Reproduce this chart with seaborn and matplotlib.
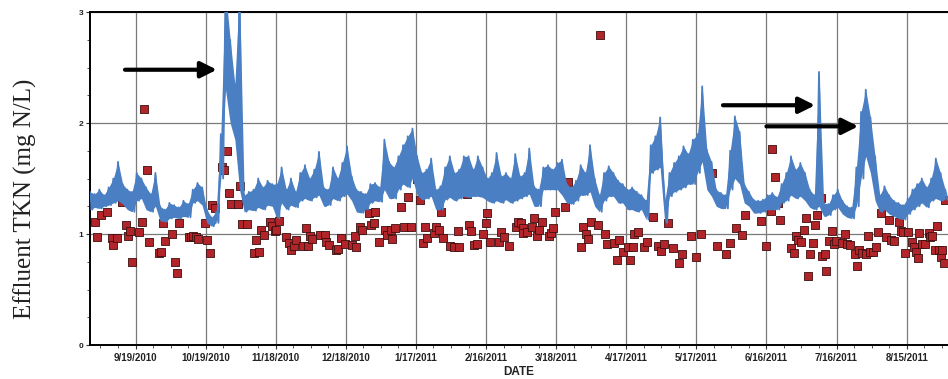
import numpy as np
import pandas as pd
import matplotlib
matplotlib.use("Agg")
import matplotlib.pyplot as plt
import matplotlib.dates as mdates
from matplotlib.ticker import FixedLocator, AutoMinorLocator, MultipleLocator
import seaborn as sns

# ---------------- data ----------------
start = pd.Timestamp("2010-08-30 12:00")

# online analyzer: upper / lower envelope of the noisy trace, one pair per 2-day bin
tkn_hi = [1.38,1.36,1.40,1.35,1.42,1.50,1.65,1.45,1.40,1.38,
          1.55,1.50,1.42,1.36,1.55,1.25,1.22,1.28,1.26,1.24,
          1.30,1.27,1.40,1.46,1.42,1.22,1.15,1.20,1.90,3.20,
          2.75,2.35,3.20,1.35,1.38,1.40,1.50,1.42,1.48,1.45,
          1.45,1.60,1.40,1.50,1.38,1.55,1.62,1.50,1.58,1.74,
          1.42,1.40,1.60,1.50,1.64,1.79,1.52,1.40,1.38,1.36,
          1.45,1.46,1.42,1.85,1.65,1.60,1.70,1.80,1.88,1.95,
          1.70,1.55,1.58,1.68,1.40,1.43,1.60,1.70,1.55,1.58,
          1.70,1.70,1.58,1.70,1.60,1.50,1.55,1.73,1.52,1.55,
          1.50,1.72,1.52,1.55,1.77,1.43,1.40,1.60,1.62,1.58,
          1.64,1.67,1.45,1.42,1.48,1.62,1.55,1.80,1.50,1.35,
          1.55,1.61,1.55,1.48,1.45,1.40,1.42,1.38,1.35,1.30,
          1.80,1.88,2.05,1.30,1.55,1.64,1.70,1.79,1.72,1.85,
          1.90,2.33,1.76,1.65,1.40,1.37,1.35,1.75,2.06,1.92,
          1.45,1.38,1.31,1.30,1.31,1.35,1.37,1.33,1.45,1.55,
          1.70,1.58,1.64,1.55,1.40,1.35,2.46,1.28,1.27,1.35,
          1.40,1.30,1.25,1.24,1.60,2.10,2.30,2.05,1.70,1.35,
          1.43,1.35,1.30,1.28,1.26,1.32,1.40,1.45,1.50,1.42,
          1.50,1.68,1.55,1.40]
tkn_lo = [1.22,1.24,1.23,1.25,1.26,1.28,1.30,1.27,1.22,1.20,
          1.30,1.32,1.22,1.20,1.25,1.12,1.11,1.14,1.15,1.14,
          1.16,1.15,1.28,1.30,1.26,1.10,1.07,1.10,1.50,2.30,
          2.00,1.85,1.40,1.20,1.22,1.21,1.24,1.22,1.26,1.25,
          1.14,1.28,1.22,1.26,1.24,1.30,1.32,1.30,1.33,1.35,
          1.25,1.26,1.32,1.30,1.34,1.36,1.30,1.20,1.19,1.22,
          1.28,1.30,1.29,1.40,1.32,1.32,1.40,1.45,1.42,1.50,
          1.35,1.31,1.32,1.34,1.22,1.22,1.31,1.33,1.30,1.32,
          1.34,1.33,1.34,1.34,1.33,1.30,1.28,1.30,1.28,1.31,
          1.28,1.30,1.32,1.34,1.36,1.25,1.25,1.40,1.40,1.40,
          1.40,1.35,1.28,1.27,1.30,1.35,1.35,1.38,1.25,1.20,
          1.30,1.34,1.34,1.28,1.28,1.22,1.22,1.20,1.22,1.13,
          1.55,1.58,1.60,1.10,1.34,1.38,1.40,1.42,1.45,1.45,
          1.55,1.65,1.40,1.34,1.25,1.23,1.23,1.40,1.50,1.45,
          1.28,1.25,1.19,1.19,1.20,1.22,1.22,1.22,1.28,1.30,
          1.35,1.32,1.34,1.30,1.24,1.22,1.25,1.16,1.17,1.22,
          1.24,1.18,1.15,1.14,1.25,1.50,1.70,1.55,1.30,1.20,
          1.22,1.18,1.16,1.14,1.13,1.18,1.22,1.25,1.28,1.24,
          1.30,1.32,1.30,1.31]

# grab samples (day offset from start, mg N/L)
grab_days = [2.1,3.1,4.6,7.4,9.3,10.0,11.4,13.5,15.4,16.4,17.1,18.2,21.1,22.4,23.2,24.2,25.2,
             29.6,30.3,31.3,32.2,35.2,36.3,37.3,38.2,39.2,42.3,43.2,44.2,45.3,46.3,49.1,50.1,
             51.3,52.4,53.4,56.7,57.4,58.7,59.4,60.4,63.4,64.4,65.2,67.4,70.2,71.2,72.4,73.4,
             74.4,76.9,78.1,79.1,79.8,80.9,84.0,85.2,86.2,87.2,88.3,91.2,
             92.6,93.3,94.0,95.0,98.3,100.4,101.2,102.2,105.4,106.1,107.3,109.0,112.3,113.3,
             114.0,115.4,116.4,119.4,120.4,121.4,122.1,123.5,126.1,127.2,128.7,129.2,130.4,
             133.2,134.3,136.1,137.2,140.0,141.3,142.5,143.5,144.3,147.2,148.2,149.2,150.3,
             151.0,154.2,155.6,157.4,158.1,161.4,162.1,163.1,164.5,165.5,168.4,169.3,170.0,
             171.4,175.2,175.9,177.4,179.2,182.4,183.1,
             184.5,185.2,185.5,186.9,189.2,190.2,191.2,192.1,193.5,196.3,197.3,198.3,199.2,
             203.3,204.5,210.2,211.2,212.3,213.3,214.4,217.3,218.2,220.4,221.3,224.4,225.4,
             226.2,228.2,230.1,231.2,232.2,233.0,234.4,237.2,238.4,241.1,243.3,244.3,245.5,
             247.5,249.3,252.2,253.3,257.4,259.3,261.4,266.4,268.3,272.4,274.0,276.4,
             279.2,280.2,287.3,289.2,291.3,292.0,293.0,294.4,295.3,300.1,301.3,302.0,303.1,
             304.1,305.5,306.3,307.3,308.1,309.4,310.3,311.2,312.7,313.4,314.4,315.1,316.2,
             317.4,318.4,319.1,321.9,323.1,324.1,325.1,327.2,328.1,329.1,330.2,331.9,333.0,
             334.0,335.2,336.2,337.2,338.7,340.7,341.9,343.0,344.0,346.2,347.1,348.0,349.0,
             350.1,351.6,352.6,353.7,354.4,355.0,356.1,357.3,359.0,359.7,360.4,361.5,362.5,
             363.2,364.1,364.7,365.4,366.1]
grab_tkn = [1.105,0.976,1.17,1.20,0.96,0.90,0.96,1.29,1.08,0.98,1.03,0.75,1.02,1.105,2.13,1.58,0.93,
            0.83,0.84,1.10,0.94,1.00,0.75,0.65,1.10,1.20,0.976,0.97,0.985,0.976,0.955,1.10,0.95,
            0.83,1.26,1.23,1.60,1.58,1.75,1.37,1.27,1.27,1.43,1.09,1.09,0.83,0.95,0.84,1.04,
            0.99,1.11,1.07,1.03,1.04,1.12,0.976,0.92,0.86,0.89,0.95,0.89,
            1.05,0.89,0.98,0.955,0.99,0.99,0.93,0.90,0.855,0.865,0.96,0.91,0.90,0.985,
            0.88,1.066,1.036,1.19,1.08,1.10,1.20,0.93,1.04,0.99,1.04,0.955,1.05,
            1.24,1.06,1.33,1.066,1.50,1.31,0.915,1.06,0.96,1.006,1.066,1.04,1.196,
            0.96,0.895,0.88,1.03,0.88,1.36,1.08,1.03,0.90,0.91,1.00,1.10,1.19,
            0.925,0.93,1.015,0.976,0.89,1.066,1.11,
            1.10,1.05,1.006,1.02,1.066,1.14,0.985,1.036,1.105,0.985,1.01,1.05,1.196,
            1.24,1.47,0.885,1.066,1.00,0.955,1.11,1.08,2.795,1.00,0.91,0.915,0.77,
            0.95,0.84,0.885,0.77,0.88,1.00,1.02,0.885,0.93,1.15,0.895,0.85,0.91,
            1.10,0.876,0.735,0.82,0.98,0.795,1.00,1.55,0.895,0.82,0.915,1.05,
            0.99,1.17,1.12,0.89,1.21,1.765,1.51,1.28,1.13,0.87,0.825,0.985,0.95,
            0.925,1.04,1.14,0.62,0.82,0.915,1.08,1.17,1.32,0.80,0.82,0.665,0.94,
            1.03,0.91,0.94,0.92,1.00,0.91,0.90,0.82,0.71,0.86,0.83,0.82,0.985,
            0.835,0.84,0.88,1.02,1.19,0.976,1.13,0.95,0.94,1.11,1.03,1.02,0.83,
            1.02,0.925,0.88,0.835,0.78,1.01,0.91,0.91,1.01,0.976,0.985,0.855,1.07,
            0.86,0.795,0.86,0.74,1.31]

tick_labels = ["9/19/2010", "10/19/2010", "11/18/2010", "12/18/2010", "1/17/2011",
               "2/16/2011", "3/18/2011", "4/17/2011", "5/17/2011", "6/16/2011",
               "7/16/2011", "8/15/2011"]

# annotation arrows: (tail day, tip day, level)
arrows = [(15.0, 54.3, 2.48), (270.9, 310.3, 2.16), (289.5, 328.8, 1.97)]

# ---------------- build frames ----------------
bin_start = np.arange(0, 2 * len(tkn_hi), 2)
line_days = np.ravel(np.column_stack([bin_start, bin_start + 1]))
line_vals = np.ravel(np.column_stack([tkn_hi, tkn_lo]))
line_df = pd.DataFrame({"date": start + pd.to_timedelta(line_days, unit="D"),
                        "tkn": line_vals})
grab_df = pd.DataFrame({"date": start + pd.to_timedelta(np.array(grab_days), unit="D"),
                        "tkn": grab_tkn})

# ---------------- plot ----------------
sns.set_theme(style="white")
plt.rcParams["font.family"] = ["Liberation Sans", "DejaVu Sans"]

BLUE = "#4a7fc3"
fig = plt.figure(figsize=(9.48, 3.79), dpi=100)
ax = fig.add_axes([0.0949, 0.0897, 0.9051, 0.8786])

sns.scatterplot(data=grab_df, x="date", y="tkn", marker="s", s=28,
                color="#b1242a", edgecolor="#3b0f0f", linewidth=0.6,
                ax=ax, zorder=3, legend=False)

x0 = mdates.date2num(start)
ax.fill_between(x0 + bin_start, tkn_lo, tkn_hi, color=BLUE, linewidth=0, zorder=4)
sns.lineplot(data=line_df, x="date", y="tkn", estimator=None, sort=False,
             color=BLUE, linewidth=1.3, ax=ax, zorder=4)

ax.set_xlim(x0, x0 + 367.2)
ax.set_ylim(0, 3)

tick_pos = mdates.date2num(pd.to_datetime(tick_labels, format="%m/%d/%Y"))
ax.xaxis.set_major_locator(FixedLocator(tick_pos))
ax.set_xticklabels(tick_labels, fontsize=7, fontweight="bold", color="#222222")
ax.xaxis.set_minor_locator(AutoMinorLocator(4))
ax.yaxis.set_major_locator(MultipleLocator(1))
ax.yaxis.set_minor_locator(MultipleLocator(0.25))
ax.set_yticks([0, 1, 2, 3])
ax.set_yticklabels(["0", "1", "2", "3"], fontsize=6, fontweight="bold", color="#222222")

ax.tick_params(axis="x", which="major", direction="out", length=3, width=0.8,
               bottom=True, pad=3, color="#333333")
ax.tick_params(axis="x", which="minor", direction="out", length=2, width=0.6,
               bottom=True, color="#333333")
ax.tick_params(axis="y", which="major", direction="out", length=3, width=0.8,
               left=True, pad=2, color="#333333")
ax.tick_params(axis="y", which="minor", direction="out", length=2, width=0.6,
               left=True, color="#333333")

ax.grid(True, which="major", color="#7a7a7a", linewidth=0.9)
ax.set_axisbelow(True)
for side in ["left", "bottom", "top"]:
    ax.spines[side].set_visible(True)
    ax.spines[side].set_color("black")
    ax.spines[side].set_linewidth(1.4)
ax.spines["right"].set_visible(False)

ax.set_xlabel("DATE", fontsize=8.5, fontweight="bold", color="#222222")
ax.xaxis.set_label_coords(0.5, -0.062)
ax.set_ylabel("Effluent TKN (mg N/L)", fontsize=18, family=["Liberation Serif", "DejaVu Serif"],
              color="#222222")
ax.yaxis.set_label_coords(-0.062, 0.44)

for tail, tip, lvl in arrows:
    ax.annotate("", xy=(x0 + tip, lvl), xytext=(x0 + tail, lvl),
                arrowprops=dict(arrowstyle="-|>,head_length=0.8,head_width=0.4",
                                lw=3, color="black", shrinkA=0, shrinkB=0),
                zorder=6)

fig.savefig("out.png", dpi=100)
